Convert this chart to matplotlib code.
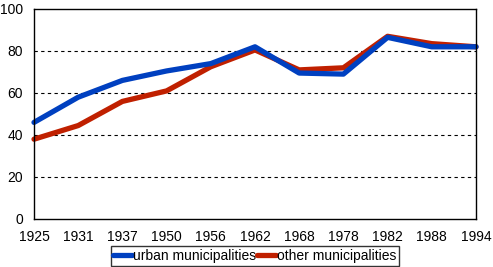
import matplotlib
matplotlib.use("Agg")
import matplotlib.pyplot as plt

years = ["1925", "1931", "1937", "1950", "1956", "1962", "1968", "1978", "1982", "1988", "1994"]
urban = [46, 58, 66, 70.5, 74, 82, 69.5, 69, 86.5, 82, 82]
other = [38, 44.5, 56, 61, 72.5, 80.5, 71, 72, 87, 83.5, 82]

BLUE = "#0040C0"
RED = "#C02000"

plt.rcParams["font.family"] = ["Liberation Sans", "DejaVu Sans"]

fig = plt.figure(figsize=(4.93, 2.67), dpi=100)
ax = fig.add_axes([34 / 493, 48 / 267, 442 / 493, 210 / 267])

x = list(range(len(years)))
l_other, = ax.plot(x, other, color=RED, linewidth=3.8, solid_capstyle="round",
                   clip_on=False, label="other municipalities")
l_urban, = ax.plot(x, urban, color=BLUE, linewidth=3.8, solid_capstyle="round",
                   clip_on=False, label="urban municipalities")

ax.set_xlim(0, len(years) - 1)
ax.set_ylim(0, 100)
ax.set_xticks(x)
ax.set_xticklabels(years)
ax.set_yticks([0, 20, 40, 60, 80, 100])
ax.tick_params(length=0, labelsize=10, colors="black")
ax.tick_params(axis="x", pad=8)
ax.tick_params(axis="y", pad=8)
for y in [20, 40, 60, 80]:
    ax.axhline(y, color="black", linestyle=(0, (3, 3)), linewidth=0.8, zorder=0)
for s in ax.spines.values():
    s.set_linewidth(1.0)

leg = fig.legend(handles=[l_urban, l_other], loc="lower center", bbox_to_anchor=(0.517, 0.0),
                 ncol=2, frameon=True, fancybox=False, edgecolor="black", fontsize=10,
                 handlelength=1.3, handletextpad=0.1, columnspacing=0.1, borderpad=0.2,
                 borderaxespad=0.1)
leg.get_frame().set_linewidth(1.0)

fig.savefig("out.png", dpi=100)
